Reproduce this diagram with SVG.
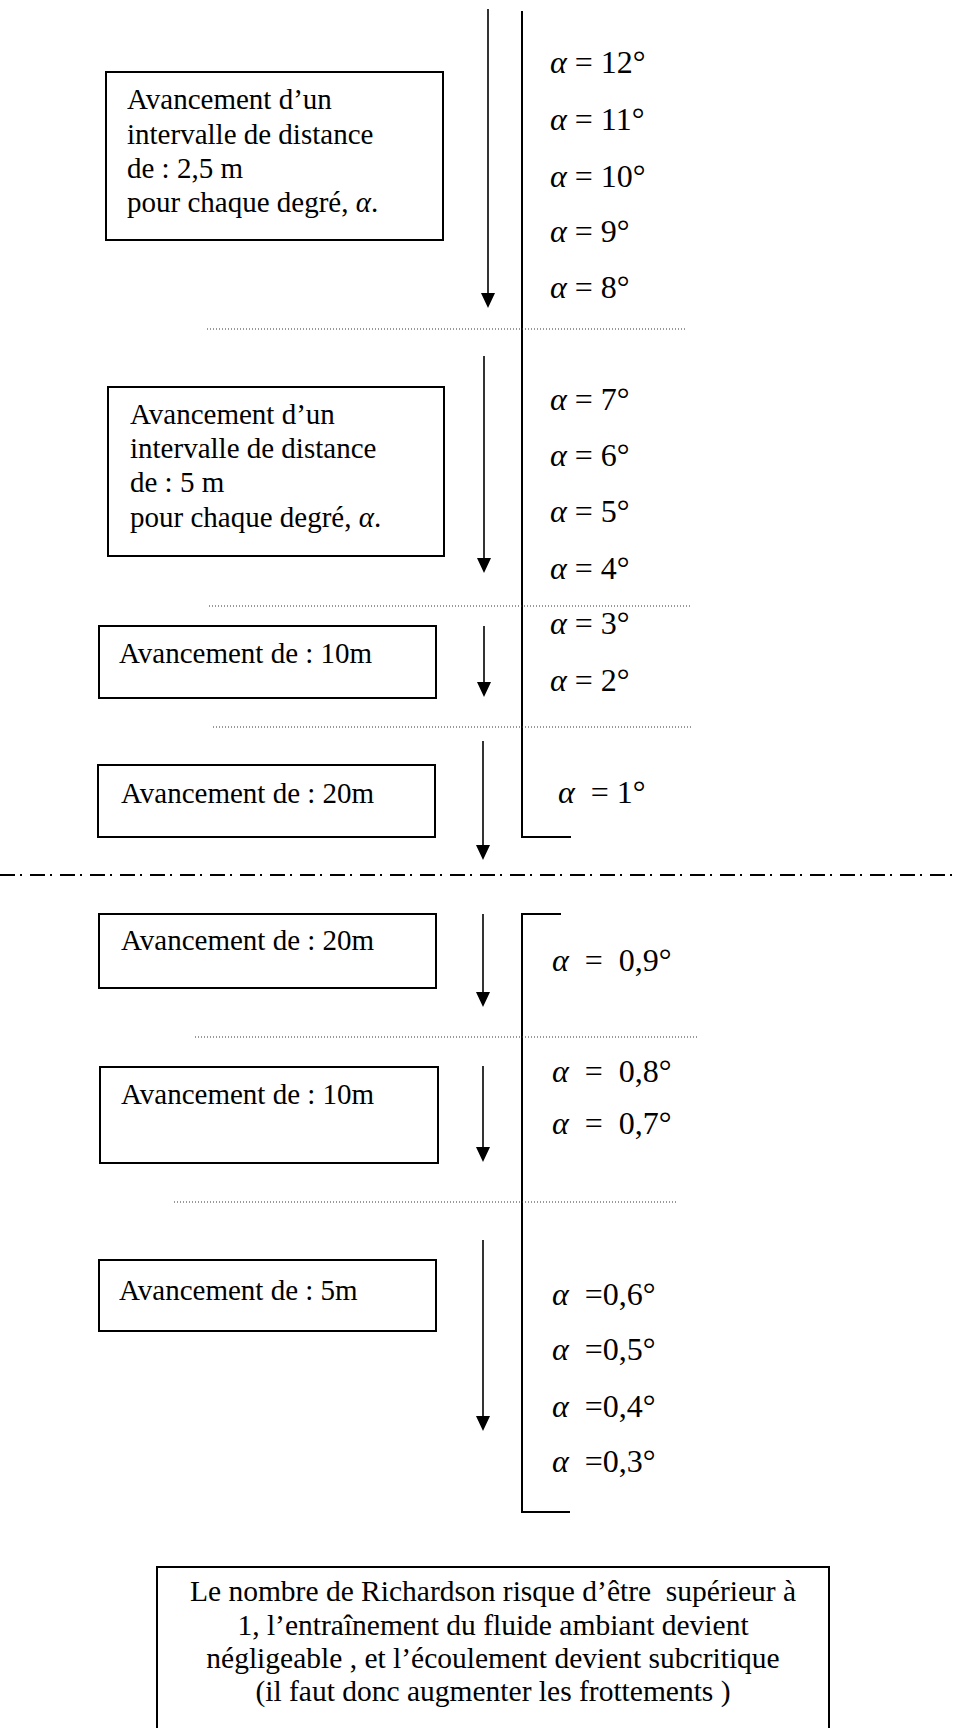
<svg xmlns="http://www.w3.org/2000/svg" width="956" height="1728" viewBox="0 0 956 1728">
<style>
.box{fill:#fff;stroke:#000;stroke-width:2}
.t{font-family:"Liberation Serif","Times New Roman",serif;font-size:29px;fill:#000}
.n{font-family:"Liberation Serif","Times New Roman",serif;font-size:29.5px;fill:#000}
.eq{font-family:"Liberation Serif","Times New Roman",serif;font-size:32px;fill:#000}
.a{font-style:italic}
.arr{stroke:#000;stroke-width:1.6;fill:none}
.bar{stroke:#000;stroke-width:2;fill:none}
.dot{stroke:#333;stroke-width:1.2;stroke-dasharray:1 2;fill:none}
.dd{stroke:#000;stroke-width:2;stroke-dasharray:15 5 2 8;fill:none}
</style>
<g id="connectors">
<line class="arr" x1="488" y1="9" x2="488" y2="293"/><path d="M481,293 L495,293 L488,308 Z"/>
<line class="arr" x1="484" y1="356" x2="484" y2="558"/><path d="M477,558 L491,558 L484,573 Z"/>
<line class="arr" x1="484" y1="626" x2="484" y2="682"/><path d="M477,682 L491,682 L484,697 Z"/>
<line class="arr" x1="483" y1="741" x2="483" y2="845"/><path d="M476,845 L490,845 L483,860 Z"/>
<line class="arr" x1="483" y1="914" x2="483" y2="992"/><path d="M476,992 L490,992 L483,1007 Z"/>
<line class="arr" x1="483" y1="1066" x2="483" y2="1147"/><path d="M476,1147 L490,1147 L483,1162 Z"/>
<line class="arr" x1="483" y1="1240" x2="483" y2="1416"/><path d="M476,1416 L490,1416 L483,1431 Z"/>
<polyline class="bar" points="522,11 522,837 571,837"/>
<polyline class="bar" points="561,914 522,914 522,1512 570,1512"/>
<line class="dot" x1="207" y1="329" x2="686" y2="329"/>
<line class="dot" x1="209" y1="606" x2="691" y2="606"/>
<line class="dot" x1="213" y1="727" x2="691" y2="727"/>
<line class="dot" x1="195" y1="1037" x2="699" y2="1037"/>
<line class="dot" x1="174" y1="1202" x2="678" y2="1202"/>
<line class="dd" x1="0" y1="875" x2="956" y2="875"/>
</g>
<g id="box1">
<rect class="box" x="106" y="72" width="337" height="168"/>
<text class="t" x="127" y="109">Avancement d’un</text>
<text class="t" x="127" y="144">intervalle de distance</text>
<text class="t" x="127" y="178">de : 2,5 m</text>
<text class="t" x="127" y="212">pour chaque degré, <tspan class="a">α</tspan>.</text>
</g>
<g id="box2">
<rect class="box" x="108" y="387" width="336" height="169"/>
<text class="t" x="130" y="424">Avancement d’un</text>
<text class="t" x="130" y="458">intervalle de distance</text>
<text class="t" x="130" y="492">de : 5 m</text>
<text class="t" x="130" y="527">pour chaque degré, <tspan class="a">α</tspan>.</text>
</g>
<g id="box3">
<rect class="box" x="99" y="626" width="337" height="72"/>
<text class="t" x="119" y="663">Avancement de : 10m</text>
</g>
<g id="box4">
<rect class="box" x="98" y="765" width="337" height="72"/>
<text class="t" x="121" y="803">Avancement de : 20m</text>
</g>
<g id="box5">
<rect class="box" x="99" y="914" width="337" height="74"/>
<text class="t" x="121" y="950">Avancement de : 20m</text>
</g>
<g id="box6">
<rect class="box" x="100" y="1067" width="338" height="96"/>
<text class="t" x="121" y="1104">Avancement de : 10m</text>
</g>
<g id="box7">
<rect class="box" x="99" y="1260" width="337" height="71"/>
<text class="t" x="119" y="1300">Avancement de : 5m</text>
</g>
<g id="labels">
<text class="eq" x="550" y="73"><tspan class="a">α</tspan> = 12°</text>
<text class="eq" x="550" y="130"><tspan class="a">α</tspan> = 11°</text>
<text class="eq" x="550" y="187"><tspan class="a">α</tspan> = 10°</text>
<text class="eq" x="550" y="242"><tspan class="a">α</tspan> = 9°</text>
<text class="eq" x="550" y="298"><tspan class="a">α</tspan> = 8°</text>
<text class="eq" x="550" y="410"><tspan class="a">α</tspan> = 7°</text>
<text class="eq" x="550" y="466"><tspan class="a">α</tspan> = 6°</text>
<text class="eq" x="550" y="522"><tspan class="a">α</tspan> = 5°</text>
<text class="eq" x="550" y="579"><tspan class="a">α</tspan> = 4°</text>
<text class="eq" x="550" y="634"><tspan class="a">α</tspan> = 3°</text>
<text class="eq" x="550" y="691"><tspan class="a">α</tspan> = 2°</text>
<text class="eq" x="558" y="803" xml:space="preserve"><tspan class="a">α</tspan>  = 1°</text>
<text class="eq" x="552" y="971" xml:space="preserve"><tspan class="a">α</tspan>  =  0,9°</text>
<text class="eq" x="552" y="1082" xml:space="preserve"><tspan class="a">α</tspan>  =  0,8°</text>
<text class="eq" x="552" y="1134" xml:space="preserve"><tspan class="a">α</tspan>  =  0,7°</text>
<text class="eq" x="552" y="1305" xml:space="preserve"><tspan class="a">α</tspan>  =0,6°</text>
<text class="eq" x="552" y="1360" xml:space="preserve"><tspan class="a">α</tspan>  =0,5°</text>
<text class="eq" x="552" y="1417" xml:space="preserve"><tspan class="a">α</tspan>  =0,4°</text>
<text class="eq" x="552" y="1472" xml:space="preserve"><tspan class="a">α</tspan>  =0,3°</text>
</g>
<g id="note">
<rect class="box" x="157" y="1567" width="672" height="180"/>
<text class="n" x="493" y="1601" text-anchor="middle" xml:space="preserve">Le nombre de Richardson risque d’être  supérieur à</text>
<text class="n" x="493" y="1635" text-anchor="middle">1, l’entraînement du fluide ambiant devient</text>
<text class="n" x="493" y="1668" text-anchor="middle">négligeable , et l’écoulement devient subcritique</text>
<text class="n" x="493" y="1701" text-anchor="middle">(il faut donc augmenter les frottements )</text>
</g>
</svg>
